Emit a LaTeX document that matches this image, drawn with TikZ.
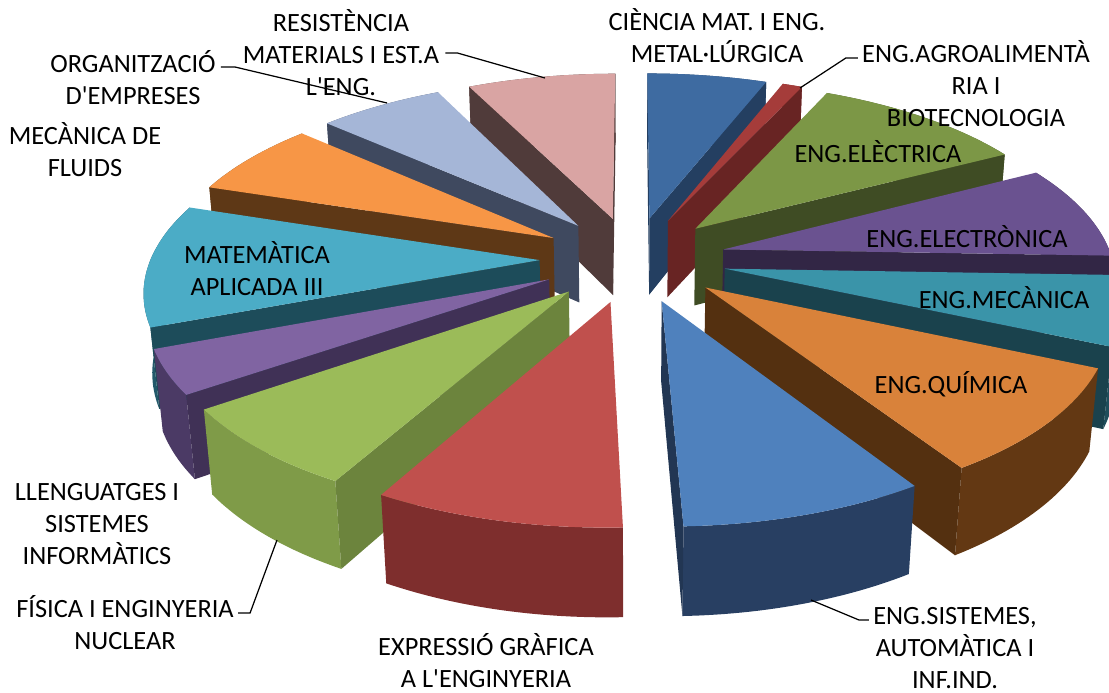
\documentclass[tikz,border=0pt]{standalone}
\usepackage{fontspec}
\setmainfont{Carlito}
\usetikzlibrary{calc}

% view of the pie (pixels, y down)
\def\cx{633}\def\cy{259}\def\ff{2322}\def\LL{5.97}\def\ph{27.2}
\def\hh{0.23}\def\dd{0.24}\def\Lc{5.31}

\definecolor{cienTop}{HTML}{3E6BA1}\definecolor{cienSide}{HTML}{2B4A72}
\definecolor{agroTop}{HTML}{A53C3A}\definecolor{agroSide}{HTML}{7A2B29}
\definecolor{elecTop}{HTML}{7C9746}\definecolor{elecSide}{HTML}{4A5A2A}
\definecolor{etrTop}{HTML}{6A5290}\definecolor{etrSide}{HTML}{3B2D51}
\definecolor{mecTop}{HTML}{3A94A9}\definecolor{mecSide}{HTML}{1F4E5B}
\definecolor{quiTop}{HTML}{D9823A}\definecolor{quiSide}{HTML}{633813}
\definecolor{sisTop}{HTML}{4F81BD}\definecolor{sisSide}{HTML}{283F62}
\definecolor{expTop}{HTML}{C0504D}\definecolor{expSide}{HTML}{7E2E2D}
\definecolor{fisTop}{HTML}{9BBB59}\definecolor{fisSide}{HTML}{7F9B48}
\definecolor{llenTop}{HTML}{8064A2}\definecolor{llenSide}{HTML}{4B3A65}
\definecolor{matTop}{HTML}{4BACC6}\definecolor{matSide}{HTML}{22596A}
\definecolor{fluTop}{HTML}{F79646}\definecolor{fluSide}{HTML}{6F421A}
\definecolor{orgTop}{HTML}{A5B6D7}\definecolor{orgSide}{HTML}{4A5670}
\definecolor{resTop}{HTML}{D9A4A3}\definecolor{resSide}{HTML}{5E4644}

\tikzset{
  lbl/.style={align=center, inner sep=0pt, font=\fontsize{15}{18.2}\selectfont},
  leader/.style={draw=black, line width=0.7pt},
}

% #1 name, #2 from angle, #3 to angle (clockwise from back), #4 top, #5 wall
\newcommand{\pieslice}[5]{%
  \pgfmathsetmacro{\tm}{(#2+#3)/2}
  \pgfmathsetmacro{\ox}{\dd*sin(\tm)}
  \pgfmathsetmacro{\oy}{\dd*cos(\tm)}
  \coordinate (#1-at) at ({sx(\ox,\oy,0)},{sy(\ox,\oy,0)});
  \coordinate (#1-ab) at ({sx(\ox,\oy,-\hh)},{sy(\ox,\oy,-\hh)});
  \coordinate (#1-1t) at ({sx(\ox+sin(#2),\oy+cos(#2),0)},{sy(\ox+sin(#2),\oy+cos(#2),0)});
  \coordinate (#1-1b) at ({sx(\ox+sin(#2),\oy+cos(#2),-\hh)},{sy(\ox+sin(#2),\oy+cos(#2),-\hh)});
  \coordinate (#1-2t) at ({sx(\ox+sin(#3),\oy+cos(#3),0)},{sy(\ox+sin(#3),\oy+cos(#3),0)});
  \coordinate (#1-2b) at ({sx(\ox+sin(#3),\oy+cos(#3),-\hh)},{sy(\ox+sin(#3),\oy+cos(#3),-\hh)});
  % outer wall
  \fill[#5] plot[domain=#2:#3,samples=30,variable=\q]
      ({sx(\ox+sin(\q),\oy+cos(\q),0)},{sy(\ox+sin(\q),\oy+cos(\q),0)})
    -- plot[domain=#3:#2,samples=30,variable=\q]
      ({sx(\ox+sin(\q),\oy+cos(\q),-\hh)},{sy(\ox+sin(\q),\oy+cos(\q),-\hh)}) -- cycle;
  % cut faces, only when they face us
  \pgfmathsetmacro{\va}{\ox*cos(#2)-sin(#2)*(\Lc+\oy)}
  \ifdim\va pt>0pt \fill[#5!85!black] (#1-at) -- (#1-1t) -- (#1-1b) -- (#1-ab) -- cycle; \fi
  \pgfmathsetmacro{\vb}{0-(\ox)*cos(#3)+sin(#3)*(\Lc+\oy)}
  \ifdim\vb pt>0pt \fill[#5!85!black] (#1-at) -- (#1-2t) -- (#1-2b) -- (#1-ab) -- cycle; \fi
  % top
  \fill[#4] (#1-at) -- plot[domain=#2:#3,samples=30,variable=\q]
      ({sx(\ox+sin(\q),\oy+cos(\q),0)},{sy(\ox+sin(\q),\oy+cos(\q),0)}) -- cycle;
}

\begin{document}
\begin{tikzpicture}[x=0.02cm,y=-0.02cm,
  declare function={
    ww(\X,\Y,\Z)=\LL+\Y*cos(\ph)-\Z*sin(\ph);
    sx(\X,\Y,\Z)=\cx+\ff*\X/ww(\X,\Y,\Z);
    sy(\X,\Y,\Z)=\cy-\ff*(\Y*sin(\ph)+\Z*cos(\ph))/ww(\X,\Y,\Z);
  }]
\useasboundingbox (0,0) rectangle (1109,693);

% slices, back to front
\pieslice{cien}{0}{21}{cienTop}{cienSide}
\pieslice{res}{334}{360}{resTop}{resSide}
\pieslice{agro}{21}{24.5}{agroTop}{agroSide}
\pieslice{org}{312}{334}{orgTop}{orgSide}
\pieslice{elec}{24.5}{62}{elecTop}{elecSide}
\pieslice{flu}{288}{312}{fluTop}{fluSide}
\pieslice{etr}{62}{92}{etrTop}{etrSide}
\pieslice{mat}{249}{288}{matTop}{matSide}
\pieslice{mec}{92}{114}{mecTop}{mecSide}
\pieslice{llen}{235}{249}{llenTop}{llenSide}
\pieslice{qui}{114}{147.5}{quiTop}{quiSide}
\pieslice{fis}{209}{235}{fisTop}{fisSide}
\pieslice{sis}{147.5}{178}{sisTop}{sisSide}
\pieslice{exp}{178}{209}{expTop}{expSide}

% labels
\node[lbl] (cienLbl) at (717,36) {CIÈNCIA MAT. I ENG.\\METAL·LÚRGICA};
\node[lbl] (agroLbl) at (976,84) {ENG.AGROALIMENTÀ\\RIA I\\BIOTECNOLOGIA};
\node[lbl] (elecLbl) at (878,152) {ENG.ELÈCTRICA};
\node[lbl] (etrLbl) at (967,237) {ENG.ELECTRÒNICA};
\node[lbl] (mecLbl) at (1004,298) {ENG.MECÀNICA};
\node[lbl] (quiLbl) at (951,384) {ENG.QUÍMICA};
\node[lbl] (sisLbl) at (955,648) {ENG.SISTEMES,\\AUTOMÀTICA I\\INF.IND.};
\node[lbl] (expLbl) at (486,661) {EXPRESSIÓ GRÀFICA\\A L\textquotesingle ENGINYERIA};
\node[lbl] (fisLbl) at (125,623) {FÍSICA I ENGINYERIA\\NUCLEAR};
\node[lbl] (llenLbl) at (97,524) {LLENGUATGES I\\SISTEMES\\INFORMÀTICS};
\node[lbl] (matLbl) at (257,269) {MATEMÀTICA\\APLICADA III};
\node[lbl] (fluLbl) at (85,150) {MECÀNICA DE\\FLUIDS};
\node[lbl] (orgLbl) at (133,78) {ORGANITZACIÓ\\D\textquotesingle EMPRESES};
\node[lbl] (resLbl) at (341,53) {RESISTÈNCIA\\MATERIALS I EST.A\\L\textquotesingle ENG.};

% leader lines
\coordinate (resTip) at (545,78);
\coordinate (orgTip) at (387,103);
\coordinate (agroTip) at (800,88);
\coordinate (fisTip) at (277,540);
\coordinate (sisTip) at (811,600);
\draw[leader] ($(resLbl.east)+(6,0)$) -- ++(12,0) -- (resTip);
\draw[leader] ($(orgLbl.east)+(5,-11)$) -- ++(14,0) -- (orgTip);
\draw[leader] ($(agroLbl.west)+(-4,-26)$) -- ++(-12,0) -- (agroTip);
\draw[leader] ($(fisLbl.east)+(4,-10)$) -- ++(12,0) -- (fisTip);
\draw[leader] ($(sisLbl.west)+(-4,-28)$) -- ++(-10,0) -- (sisTip);
\end{tikzpicture}
\end{document}
